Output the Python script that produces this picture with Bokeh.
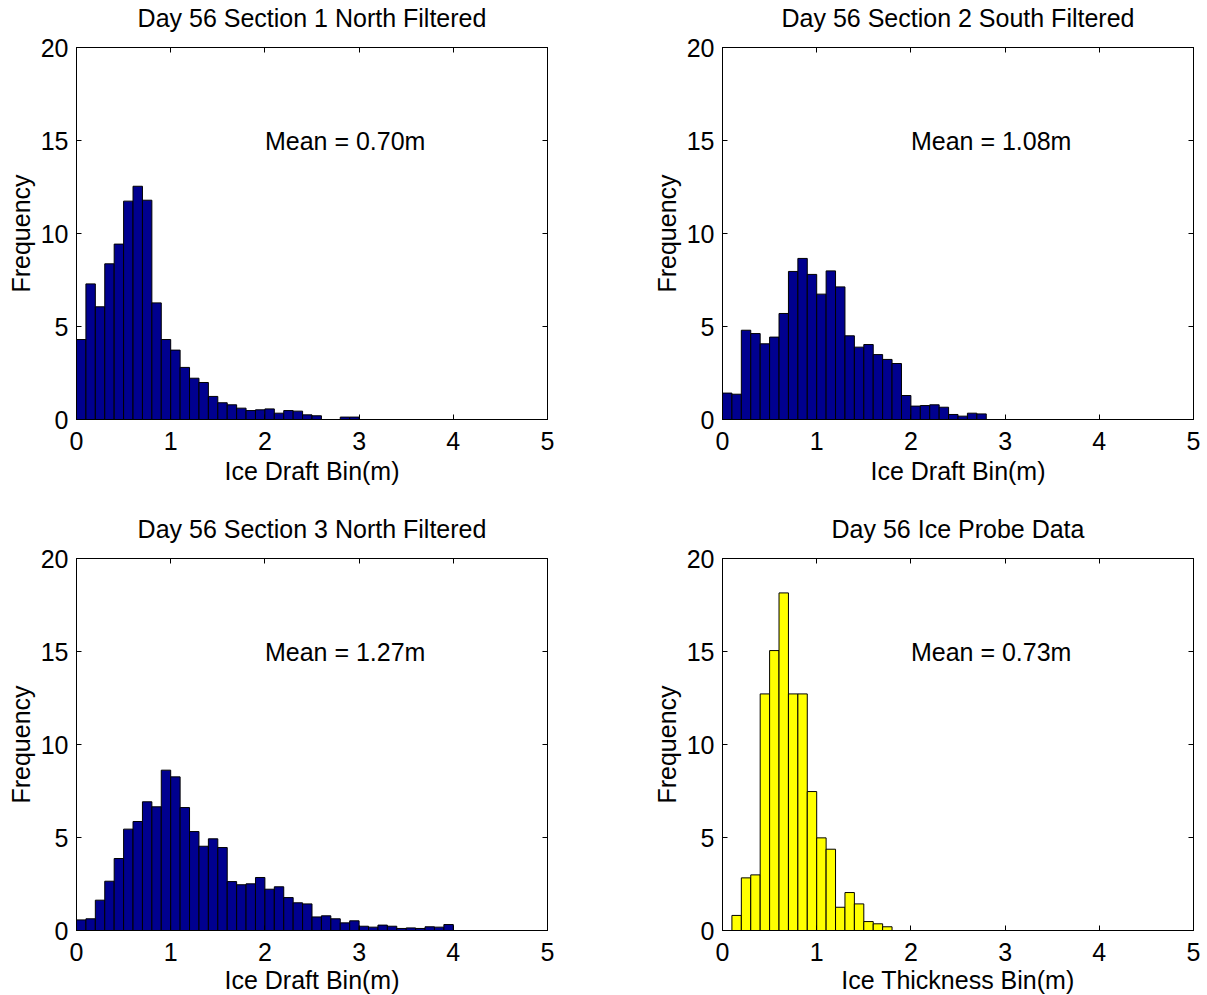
from bokeh.plotting import figure
from bokeh.layouts import column, row
from bokeh.models import LinearAxis, FixedTicker, CustomJSTickFormatter, Label, Range1d
from bokeh.embed import file_html
from bokeh.resources import INLINE

# ---- data (bin width 0.1 m, bins start at 0) ----
bin_width = 0.1
x_ticks = [0, 1, 2, 3, 4, 5]
y_ticks = [0, 5, 10, 15, 20]

sec1_north = [4.30, 7.29, 6.06, 8.37, 9.43, 11.74, 12.54, 11.79, 6.27, 4.30,
              3.73, 2.80, 2.22, 1.99, 1.24, 0.90, 0.79, 0.61, 0.48, 0.52,
              0.57, 0.34, 0.48, 0.45, 0.25, 0.20, 0.0, 0.0, 0.13, 0.13]
sec2_south = [1.42, 1.36, 4.80, 4.62, 4.07, 4.43, 5.70, 7.96, 8.66, 7.80,
              6.74, 7.99, 7.13, 4.50, 3.89, 4.03, 3.49, 3.23, 3.01, 1.29,
              0.72, 0.75, 0.79, 0.66, 0.27, 0.18, 0.34, 0.30]
sec3_north = [0.57, 0.63, 1.63, 2.65, 3.87, 5.45, 5.86, 6.92, 6.65, 8.62,
              8.26, 6.61, 5.32, 4.53, 4.93, 4.46, 2.63, 2.46, 2.51, 2.85,
              2.22, 2.35, 1.77, 1.49, 1.43, 0.73, 0.79, 0.63, 0.41, 0.52,
              0.23, 0.18, 0.29, 0.23, 0.11, 0.14, 0.11, 0.20, 0.18, 0.32]
probe = [0.0, 0.81, 2.83, 2.99, 12.72, 15.05, 18.15, 12.72, 12.72, 7.47,
         4.98, 4.37, 1.25, 2.04, 1.43, 0.48, 0.36, 0.20]

titles = ["Day 56 Section 1 North Filtered", "Day 56 Section 2 South Filtered",
          "Day 56 Section 3 North Filtered", "Day 56 Ice Probe Data"]
means = ["Mean = 0.70m", "Mean = 1.08m", "Mean = 1.27m", "Mean = 0.73m"]
xlabels = ["Ice Draft Bin(m)", "Ice Draft Bin(m)", "Ice Draft Bin(m)", "Ice Thickness Bin(m)"]
ylabel = "Frequency"

NAVY = "#00008F"
YELLOW = "#FFFF00"
FONT = "Liberation Sans"
FS = "25px"


def make_panel(counts, color, title, mean_text, xlabel, right_border, bottom_border, xlab_standoff):
    p = figure(frame_width=471, frame_height=372,
               x_range=Range1d(0, 5), y_range=Range1d(0, 20),
               output_backend="svg", toolbar_location=None,
               min_border_left=76, min_border_right=right_border,
               min_border_top=47, min_border_bottom=bottom_border,
               background_fill_color="white", border_fill_color="white")
    p.title = None
    p.outline_line_color = "black"
    p.outline_line_width = 1
    p.xgrid.visible = False
    p.ygrid.visible = False

    lefts = [i * bin_width for i in range(len(counts))]
    rights = [(i + 1) * bin_width for i in range(len(counts))]
    p.quad(left=lefts, right=rights, bottom=0, top=counts,
           fill_color=color, line_color="black", line_width=1)

    for ax in p.xaxis:
        ax.ticker = FixedTicker(ticks=x_ticks)
        ax.axis_label = xlabel
        ax.major_label_standoff = 12
        ax.axis_label_standoff = xlab_standoff
    for ax in p.yaxis:
        ax.ticker = FixedTicker(ticks=y_ticks)
        ax.axis_label = ylabel
        ax.major_label_standoff = 8
        ax.axis_label_standoff = 3
    for ax in list(p.xaxis) + list(p.yaxis):
        ax.major_tick_in = 5
        ax.major_tick_out = 0
        ax.minor_tick_in = 0
        ax.minor_tick_out = 0
        ax.axis_line_color = "black"
        ax.major_tick_line_color = "black"
        ax.major_label_text_font = FONT
        ax.major_label_text_font_size = FS
        ax.major_label_text_color = "black"
        ax.axis_label_text_font = FONT
        ax.axis_label_text_font_size = FS
        ax.axis_label_text_font_style = "normal"
        ax.axis_label_text_color = "black"

    # mirrored ticks on top (carrying the panel title) and right (no labels)
    top = LinearAxis(ticker=FixedTicker(ticks=x_ticks),
                     formatter=CustomJSTickFormatter(code="return ''"),
                     major_tick_in=5, major_tick_out=0, minor_tick_in=0, minor_tick_out=0,
                     major_label_text_font_size="0px", major_label_standoff=0,
                     axis_line_color="black",
                     axis_label=title, axis_label_standoff=16,
                     axis_label_text_font=FONT, axis_label_text_font_size=FS,
                     axis_label_text_font_style="normal", axis_label_text_color="black")
    rightax = LinearAxis(ticker=FixedTicker(ticks=y_ticks),
                         formatter=CustomJSTickFormatter(code="return ''"),
                         major_tick_in=5, major_tick_out=0, minor_tick_in=0, minor_tick_out=0,
                         major_label_text_font_size="0px", major_label_standoff=0,
                         axis_line_color="black")
    p.add_layout(top, "above")
    p.add_layout(rightax, "right")

    p.add_layout(Label(x=2.0, y=15, text=mean_text, text_align="left",
                       text_baseline="middle", text_font=FONT, text_font_size=FS,
                       text_color="black"))
    return p


p1 = make_panel(sec1_north, NAVY, titles[0], means[0], xlabels[0], 99, 92, 4)
p2 = make_panel(sec2_south, NAVY, titles[1], means[1], xlabels[1], 8, 92, 4)
p3 = make_panel(sec3_north, NAVY, titles[2], means[2], xlabels[2], 99, 65, 2)
p4 = make_panel(probe, YELLOW, titles[3], means[3], xlabels[3], 8, 65, 2)

layout = column(row(p1, p2), row(p3, p4))

open("out.html", "w").write(file_html(layout, INLINE))
